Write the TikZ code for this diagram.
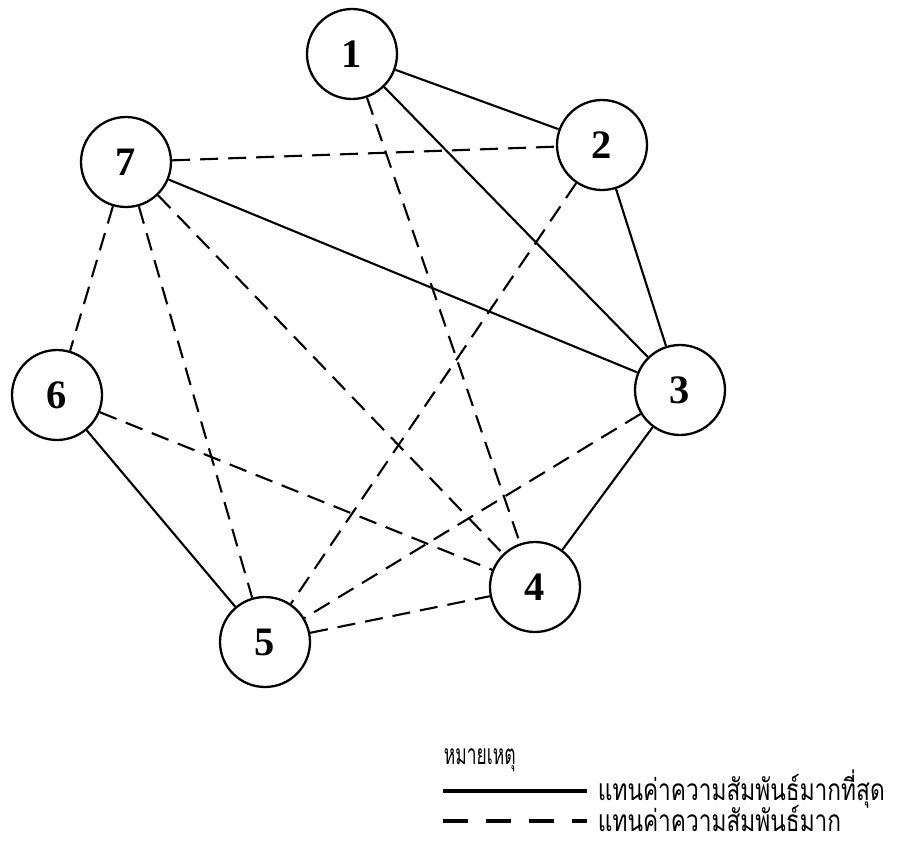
\documentclass[tikz,border=0pt]{standalone}
\usepackage{fontspec}
\usepackage{graphicx}
\setmainfont{Liberation Serif}
\newfontfamily\thaifont[Script=Thai]{Loma}
\newcommand{\narrow}[1]{\scalebox{0.76}[1]{#1}}
\usepackage{tikz}

\begin{document}
\begin{tikzpicture}[x=0.02cm, y=-0.02cm,
	vertex/.style={circle, draw, fill=white, line width=1.3pt, minimum size=1.8cm, inner sep=0pt, font=\fontsize{23}{23}\selectfont\bfseries},
	strong/.style={line width=1.2pt},
	weak/.style={line width=1.2pt, dash pattern=on 0.36cm off 0.2cm},
	note/.style={anchor=west, inner xsep=2pt, inner ysep=0pt, font=\thaifont\fontsize{17}{17}\selectfont}]
	\useasboundingbox (0,0) rectangle (903,842);
	% Nodes
	\foreach \i/\x/\y in {1/352/54, 2/602/145, 3/680/390, 4/535/587, 5/265/642, 6/57/395, 7/126/162} {
		\node[vertex] (v\i) at (\x,\y) {\i};
	}
	% Edges
	\foreach \a/\b in {1/2, 1/3, 2/3, 7/3, 3/4, 6/5} {
		\draw[strong] (v\a) -- (v\b);
	}
	\foreach \a/\b in {7/2, 1/4, 2/5, 7/6, 7/5, 7/4, 6/4, 3/5, 5/4} {
		\draw[weak] (v\a) -- (v\b);
	}
	% Legend
	\node[note, font=\thaifont\fontsize{16}{16}\selectfont] (title) at (440,760) {\scalebox{0.62}[1]{หมายเหตุ}};
	\coordinate (s1) at (443,791);
	\coordinate (d1) at (443,821);
	\node[note, inner xsep=6pt] (lbl1) at (587,789) {\narrow{แทนค่าความสัมพันธ์มากที่สุด}};
	\node[note, inner xsep=6pt] (lbl2) at (587,818) {\narrow{แทนค่าความสัมพันธ์มาก}};
	\draw[line width=1.8pt] (s1) -- (s1 -| lbl1.west);
	\draw[line width=1.8pt, dash pattern=on 0.5cm off 0.36cm] (d1) -- (d1 -| lbl2.west);
\end{tikzpicture}
\end{document}
